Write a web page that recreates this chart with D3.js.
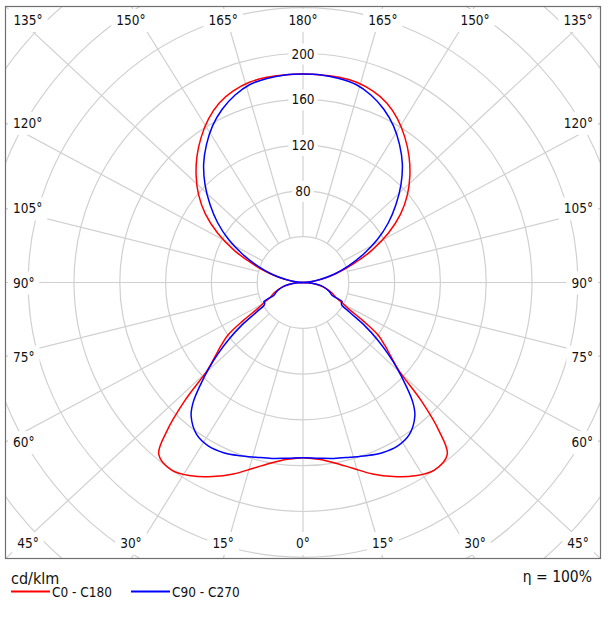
<!DOCTYPE html>
<html>
<head>
<meta charset="utf-8">
<script src="https://cdn.jsdelivr.net/npm/d3@7"></script>
<style>
  body { margin: 0; background: #fff; }
  text { font-family: 'DejaVu Sans Condensed', 'DejaVu Sans', sans-serif; fill: #111; }
</style>
</head>
<body>
<div id="chart"></div>
<script>
// Gamma angles (0 = straight down, 180 = straight up) and intensities in cd/klm
const gammaAngles = [0, 5, 10, 15, 20, 25, 30, 35, 40, 42.5, 45, 47.5, 50, 52.5, 55, 57.5, 60,
  62, 64, 66, 70, 75, 80, 85, 90,
  95, 100, 105, 110, 115, 120, 125, 130, 135, 140, 145, 150, 155, 160, 165, 170, 175, 180];
const c0c180 = [153, 155, 160, 168, 178, 187, 195, 200, 196, 176, 146, 113, 100, 90, 80, 62, 46,
  40, 35, 31, 27, 21, 15, 8, 0,
  6, 17, 30, 46, 66, 86, 104, 119, 132, 144, 155, 165, 173, 178, 181, 182, 182, 182];
const c90c270 = [153, 154, 156, 158, 161, 164, 165, 162, 152, 142, 127, 112, 97, 82, 66, 48, 39,
  38, 38, 28, 25, 21, 16, 9, 0,
  5, 15, 28, 42, 58, 75, 91, 106, 121, 135, 147, 158, 167, 174, 179, 181, 182, 182];

const seriesNames = ['C0 - C180', 'C90 - C270'];
const seriesColors = ['#ff0000', '#0000ff'];

const ringValues = [40, 80, 120, 160, 200, 240, 280, 320, 360];
const ringLabels = [80, 120, 160, 200];
const angleTicks = [0, 15, 30, 45, 60, 75, 90, 105, 120, 135, 150, 165, 180];

const width = 612, height = 617;
const frame = { left: 5, top: 6, right: 601, bottom: 559 };
const cx = (frame.left + frame.right) / 2;
const cy = (frame.top + frame.bottom) / 2;
const halfW = (frame.right - frame.left) / 2;
const halfH = (frame.bottom - frame.top) / 2;

const rScale = d3.scaleLinear().domain([0, 200]).range([0, 229]);
const toRad = d3.scaleLinear().domain([0, 180]).range([0, Math.PI]);

const svg = d3.select('#chart')
  .append('svg')
  .attr('width', width)
  .attr('height', height);

svg.append('rect')
  .attr('width', width).attr('height', height)
  .attr('fill', '#fff');

svg.append('clipPath')
  .attr('id', 'frameClip')
  .append('rect')
  .attr('x', frame.left).attr('y', frame.top)
  .attr('width', frame.right - frame.left)
  .attr('height', frame.bottom - frame.top);

const plot = svg.append('g').attr('clip-path', 'url(#frameClip)');
const grid = plot.append('g').attr('transform', 'translate(' + cx + ',' + cy + ')');

// Rings
grid.selectAll('circle')
  .data(ringValues)
  .enter()
  .append('circle')
    .attr('r', (d) => rScale(d))
    .attr('fill', 'none')
    .attr('stroke', '#d0d0d0')
    .attr('stroke-width', 1.2);

// Spokes, one per tick angle on each side; they run out to the frame
const spokes = [];
angleTicks.forEach((a) => {
  spokes.push({ a: a, side: 1 });
  if (a !== 0 && a !== 180) spokes.push({ a: a, side: -1 });
});

function edgePoint(a, side) {
  const u = side * Math.sin(toRad(a));
  const v = Math.cos(toRad(a));
  const m = Math.max(Math.abs(u), Math.abs(v));
  return [u / m * halfW, v / m * halfH];
}

grid.selectAll('line')
  .data(spokes)
  .enter()
  .append('line')
    .each(function(d) {
      const p = edgePoint(d.a, d.side);
      const len = Math.hypot(p[0], p[1]);
      const r0 = rScale(ringValues[0]);
      d3.select(this)
        .attr('x1', p[0] / len * r0).attr('y1', p[1] / len * r0)
        .attr('x2', p[0]).attr('y2', p[1]);
    })
    .attr('stroke', '#d0d0d0')
    .attr('stroke-width', 1.2);

// Curves: each lobe is drawn as a closed loop, right half then mirrored left half
const lineR = d3.lineRadial()
  .angle((d) => d.a)
  .radius((d) => rScale(d.v))
  .curve(d3.curveCatmullRomClosed.alpha(0.5));

function lobes(values) {
  const lower = [], upper = [];
  gammaAngles.forEach((g, i) => {
    if (g <= 90) lower.push({ g: g, v: values[i] });
    if (g >= 90) upper.push({ g: g, v: values[i] });
  });
  const closed = (half) => half.map((d) => ({ a: Math.PI - toRad(d.g), v: d.v }))
    .concat(half.slice(1, -1).reverse().map((d) => ({ a: Math.PI + toRad(d.g), v: d.v })));
  return [closed(lower), closed(upper)];
}

[c0c180, c90c270].forEach((values, i) => {
  grid.append('g')
    .selectAll('path')
    .data(lobes(values))
    .enter()
    .append('path')
      .attr('d', lineR)
      .attr('fill', 'none')
      .attr('stroke', seriesColors[i])
      .attr('stroke-width', 1.5);
});

// Labels sit on white boxes that hide the grid behind them
function boxedLabel(parent, x, y, str, anchor, padX, padY) {
  const g = parent.append('g');
  const rect = g.append('rect').attr('fill', '#fff');
  const t = g.append('text')
    .attr('x', x).attr('y', y)
    .attr('text-anchor', anchor)
    .style('font-size', '13.5px')
    .text(str);
  const b = t.node().getBBox();
  rect.attr('x', b.x - padX).attr('y', b.y - padY + 2)
    .attr('width', b.width + 2 * padX).attr('height', b.height + 2 * padY - 3);
}

const labels = plot.append('g');

ringLabels.forEach((v) => {
  boxedLabel(labels, cx, cy - rScale(v) + 5, String(v), 'middle', 3, 4);
});

spokes.forEach((d) => {
  const p = edgePoint(d.a, d.side);
  const str = d.a + '°';
  if (Math.abs(p[1]) >= halfH - 0.01) {
    const top = p[1] < 0;
    const x = Math.max(frame.left + 23, Math.min(frame.right - 23, cx + p[0]));
    boxedLabel(labels, x, top ? frame.top + 19 : frame.bottom - 11, str, 'middle', 5, 5);
  } else if (d.side < 0) {
    boxedLabel(labels, frame.left + 8, cy + p[1] + 5, str, 'start', 5, 5);
  } else {
    boxedLabel(labels, frame.right - 8, cy + p[1] + 5, str, 'end', 5, 5);
  }
});

// Frame
svg.append('rect')
  .attr('x', frame.left + 0.5).attr('y', frame.top + 0.5)
  .attr('width', frame.right - frame.left - 1)
  .attr('height', frame.bottom - frame.top - 1)
  .attr('fill', 'none')
  .attr('stroke', '#707070')
  .attr('stroke-width', 1.2);

// Unit, legend and efficiency
svg.append('text')
  .attr('x', 11).attr('y', 583.5)
  .style('font-size', '16px')
  .text('cd/klm');

const legendX = [11, 131];
const legend = svg.selectAll('g.legend')
  .data(seriesNames)
  .enter()
  .append('g')
    .attr('class', 'legend')
    .attr('transform', (d, i) => 'translate(' + legendX[i] + ',591.5)');

legend.append('line')
  .attr('x1', 0).attr('x2', 39)
  .attr('stroke', (d, i) => seriesColors[i])
  .attr('stroke-width', 2);

legend.append('text')
  .attr('x', 41).attr('y', 5)
  .style('font-size', '13.5px')
  .text((d) => d);

svg.append('text')
  .attr('x', 592).attr('y', 582)
  .attr('text-anchor', 'end')
  .style('font-size', '15.5px')
  .text('η = 100%');
</script>
</body>
</html>
